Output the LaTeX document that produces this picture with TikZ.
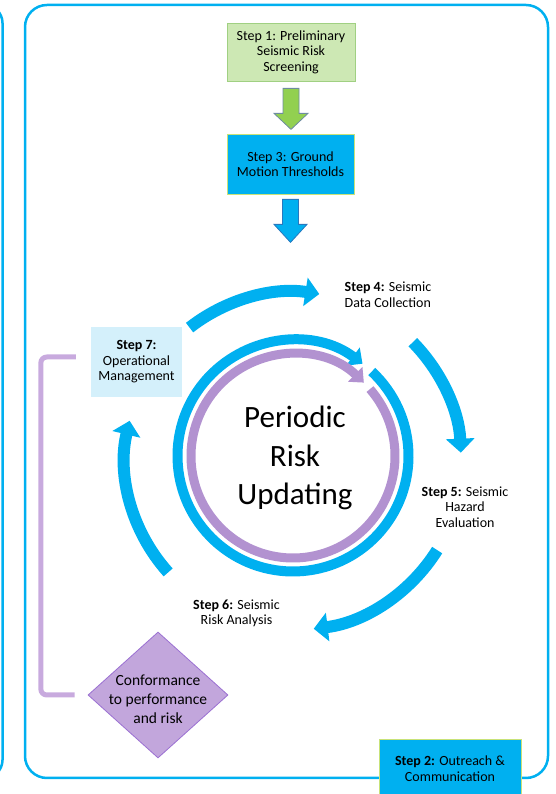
\documentclass[tikz,border=0pt]{standalone}
\usepackage{fontspec}
\setmainfont{Carlito}
\usetikzlibrary{arrows.meta,calc,shapes.geometric}

\definecolor{skyblue}{RGB}{0,176,240}
\definecolor{paleblue}{RGB}{212,240,251}
\definecolor{stepgreen}{RGB}{205,232,180}
\definecolor{stepgreenline}{RGB}{160,208,130}
\definecolor{arrowgreen}{RGB}{146,208,80}
\definecolor{arrowgreenline}{RGB}{110,140,160}
\definecolor{arrowblueline}{RGB}{40,120,190}
\definecolor{boxedge}{RGB}{200,226,120}
\definecolor{ringpurple}{RGB}{178,146,208}
\definecolor{bracketpurple}{RGB}{200,170,222}
\definecolor{diamondfill}{RGB}{194,166,220}
\definecolor{diamondline}{RGB}{155,112,210}

\begin{document}
\begin{tikzpicture}[x=1pt,y=1pt,
  txt/.style={inner sep=0pt, align=center, font=\fontsize{14}{15.5}\selectfont},
  stepbox/.style={txt, line width=0.8pt},
  ring/.style={line width=10pt},
  cyc/.style={draw=skyblue, line width=12pt, -{Triangle[width=28pt,length=14pt]}},
  bracket/.style={draw=bracketpurple, line width=5pt, rounded corners=6pt},
  frame/.style={draw=skyblue, line width=2.5pt, rounded corners=22pt},
]
\useasboundingbox (0,0) rectangle (556,794);
\clip (0,0) rectangle (556,794);

% panel frames
\draw[frame, rounded corners=18pt] (-60,789) -- (2.5,789) -- (2.5,16) -- (-60,16);
\draw[frame] (25,16) rectangle (548,789);

% top chain of steps
\node[stepbox, fill=stepgreen, draw=stepgreenline, minimum width=128pt, minimum height=58pt]
  (s1) at (291,742) {Step 1: Preliminary\\Seismic Risk\\Screening};
\node[stepbox, fill=skyblue, draw=boxedge, minimum width=127pt, minimum height=60pt]
  (s3) at (290.5,630) {Step 3: Ground\\Motion Thresholds};

\draw[fill=arrowgreen, draw=arrowgreenline, line width=0.8pt]
  ($(s1.south)+(-8,-7)$) -- ++(16,0) -- ++(0,-25) -- ++(9,0) -- ++(-17,-16)
  -- ++(-17,16) -- ++(9,0) -- cycle;
\draw[fill=skyblue, draw=arrowblueline, line width=0.8pt]
  ($(s3.south)+(-8,-5)$) -- ++(16,0) -- ++(0,-25) -- ++(8.5,0) -- ++(-16.5,-18)
  -- ++(-16.5,18) -- ++(8.5,0) -- cycle;

% central rings
\coordinate (rc) at (293,338);
\draw[ring, draw=skyblue, -{Triangle[width=22pt,length=12pt]}]
  (rc) ++(47:115.5) arc[start angle=47, end angle=-307, radius=115.5pt];
\draw[ring, line width=9pt, draw=ringpurple, -{Triangle[width=20pt,length=12pt]}]
  (rc) ++(41:102) arc[start angle=41, end angle=-314, radius=102pt];
\node[txt, font=\fontsize{31}{38.5}\selectfont] (pru) at (295,336) {Periodic\\Risk\\Updating};

% outer cycle of steps
\coordinate (oc) at (293,334);
\draw[cyc] (oc) ++(128:168) arc[start angle=128, end angle=81, radius=168pt];
\draw[cyc] (oc) ++(44.5:168) arc[start angle=44.5, end angle=2.5, radius=168pt];
\draw[cyc] (oc) ++(-32:170) arc[start angle=-32, end angle=-83, radius=170pt];
\draw[cyc] (oc) ++(222:168) arc[start angle=222, end angle=166.5, radius=168pt];

\node[txt, fill=paleblue, minimum width=91pt, minimum height=70pt]
  (s7) at (136.5,432) {\textbf{Step 7:}\\Operational\\Management};
\node[txt, anchor=west, align=left] (s4) at (344.5,499.5) {\textbf{Step 4:} Seismic\\Data Collection};
\node[txt] (s5) at (465,287) {\textbf{Step 5:} Seismic\\Hazard\\Evaluation};
\node[txt] (s6) at (236.5,180.5) {\textbf{Step 6:} Seismic\\Risk Analysis};

% conformance check (the strut sets the text a little below the centre)
\node[diamond, draw=diamondline, fill=diamondfill, line width=0.8pt, inner sep=-20pt,
  minimum width=140pt, minimum height=126pt, align=center,
  font=\fontsize{15.5}{18.7}\selectfont] (dm) at (158,99)
  {\rule{0pt}{19pt}Conformance\\to performance\\and risk};
\draw[bracket, shorten <=15pt, shorten >=13pt] ([yshift=5pt]s7.west) -- ++(-50,0) |- (dm.west);

% outreach box on the frame edge
\node[stepbox, fill=skyblue, draw=boxedge, minimum width=142pt, minimum height=59pt]
  (s2) at (450,25.5) {\textbf{Step 2:} Outreach \&\\Communication};
\end{tikzpicture}
\end{document}
